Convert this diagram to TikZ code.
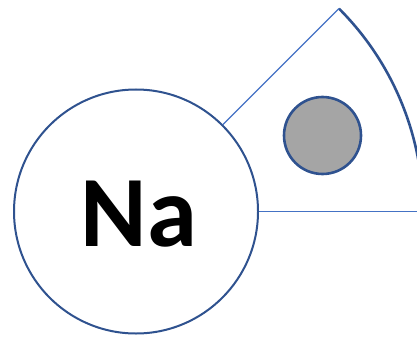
\documentclass[tikz,border=0pt]{standalone}
\usepackage{fontspec}
\setmainfont{Carlito}
\usetikzlibrary{calc}
\definecolor{darkblue}{HTML}{2F528F}
\definecolor{lineblue}{HTML}{4472C4}
\definecolor{grayfill}{HTML}{A5A5A5}
\tikzset{
  thinline/.style={draw=lineblue, line width=1.2pt},
  thickarc/.style={draw=darkblue, line width=2.6pt},
  atom/.style={circle, draw=darkblue, line width=2pt, fill=white, minimum size=244pt, inner sep=0pt},
  electron/.style={circle, draw=darkblue, line width=2.6pt, fill=grayfill, minimum size=77pt, inner sep=0pt}
}
\begin{document}
\begin{tikzpicture}[x=1pt,y=1pt]
\useasboundingbox (0,0) rectangle (417,338);
\clip (0,0) rectangle (417,338);
\coordinate (c) at (136,126.5);
\coordinate (tip) at ($(c)+(45:287)$);
\coordinate (far) at (430,126.5);
\draw[thickarc] (tip) arc[start angle=45, end angle=-8, radius=287];
\node[atom] (na) at (c) {};
\draw[thinline] (na.45) -- (tip);
\draw[thinline] (na.east) -- (far);
\node[electron] (e) at (322.5,202.5) {};
\node[font=\bfseries\fontsize{101}{101}\selectfont] (lbl) at (139,124) {Na};
\end{tikzpicture}
\end{document}
